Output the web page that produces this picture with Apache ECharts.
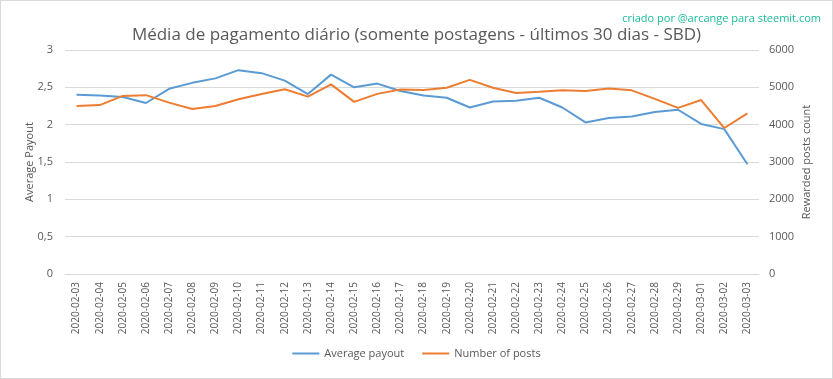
<!DOCTYPE html>
<html><head><meta charset="utf-8">
<script src="https://cdn.jsdelivr.net/npm/echarts@6/dist/echarts.min.js"></script>
<style>html,body{margin:0;padding:0;background:#fff}#c{width:831px;height:377px;border:1px solid #d9d9d9}</style>
</head><body><div id="c"></div>
<script>
const categories = ["2020-02-03","2020-02-04","2020-02-05","2020-02-06","2020-02-07","2020-02-08","2020-02-09","2020-02-10","2020-02-11","2020-02-12","2020-02-13","2020-02-14","2020-02-15","2020-02-16","2020-02-17","2020-02-18","2020-02-19","2020-02-20","2020-02-21","2020-02-22","2020-02-23","2020-02-24","2020-02-25","2020-02-26","2020-02-27","2020-02-28","2020-02-29","2020-03-01","2020-03-02","2020-03-03"];
const averagePayout = [2.40,2.39,2.37,2.29,2.48,2.56,2.62,2.73,2.69,2.59,2.41,2.67,2.50,2.55,2.45,2.39,2.36,2.23,2.31,2.32,2.36,2.23,2.03,2.09,2.11,2.17,2.20,2.01,1.94,1.47];
const numberOfPosts = [4500,4525,4770,4790,4590,4420,4500,4680,4820,4950,4750,5080,4610,4825,4940,4930,4990,5200,4990,4850,4880,4920,4900,4970,4920,4690,4450,4660,3910,4300];
const leftTicks = {min:0,max:3,interval:0.5};
const rightTicks = {min:0,max:6000,interval:1000};

const chart = echarts.init(document.getElementById('c'));
const font = 'Open Sans';
const gray = '#595959';
chart.setOption({
  animation:false,
  title:[{
    text:'Média de pagamento diário (somente postagens - últimos 30 dias - SBD)',
    left:'center', top:21,
    textStyle:{fontFamily:font,fontSize:17,fontWeight:'normal',color:gray}
  },{
    text:'criado por @arcange para steemit.com',
    right:6, top:7,
    textStyle:{fontFamily:font,fontSize:11,fontWeight:'normal',color:'#1abc9c'}
  }],
  legend:{
    bottom:14, left:'center', itemWidth:27, itemHeight:2, itemGap:18,
    icon:'rect',
    textStyle:{fontFamily:font,fontSize:11,color:gray},
    data:['Average payout','Number of posts']
  },
  grid:{left:64,right:73,top:49,bottom:104},
  xAxis:{
    type:'category', data:categories, boundaryGap:true,
    axisLine:{lineStyle:{color:'#d9d9d9'}},
    axisTick:{show:false},
    axisLabel:{rotate:90,interval:0,fontFamily:font,fontSize:10,color:gray,margin:8}
  },
  yAxis:[{
    type:'value', min:leftTicks.min, max:leftTicks.max, interval:leftTicks.interval,
    name:'Average Payout', nameLocation:'middle', nameGap:30, nameMoveOverlap:false,
    nameTextStyle:{fontFamily:font,fontSize:11,color:gray},
    axisLine:{show:false}, axisTick:{show:false},
    splitLine:{lineStyle:{color:'#d9d9d9'}},
    axisLabel:{fontFamily:font,fontSize:11,color:gray,margin:12,
      formatter:v=>String(v).replace('.',',')}
  },{
    type:'value', min:rightTicks.min, max:rightTicks.max, interval:rightTicks.interval,
    name:'Rewarded posts count', nameLocation:'middle', nameGap:42, nameMoveOverlap:false,
    nameTextStyle:{fontFamily:font,fontSize:11,color:gray},
    axisLine:{show:false}, axisTick:{show:false},
    splitLine:{show:false},
    axisLabel:{fontFamily:font,fontSize:11,color:gray,margin:10,
      formatter:v=>String(v)}
  }],
  series:[{
    name:'Average payout', type:'line', data:averagePayout, yAxisIndex:0,
    symbol:'none', lineStyle:{width:2,color:'#5b9bd5'}, itemStyle:{color:'#5b9bd5'}
  },{
    name:'Number of posts', type:'line', data:numberOfPosts, yAxisIndex:1,
    symbol:'none', lineStyle:{width:2,color:'#ed7d31'}, itemStyle:{color:'#ed7d31'}
  }]
});
</script></body></html>
